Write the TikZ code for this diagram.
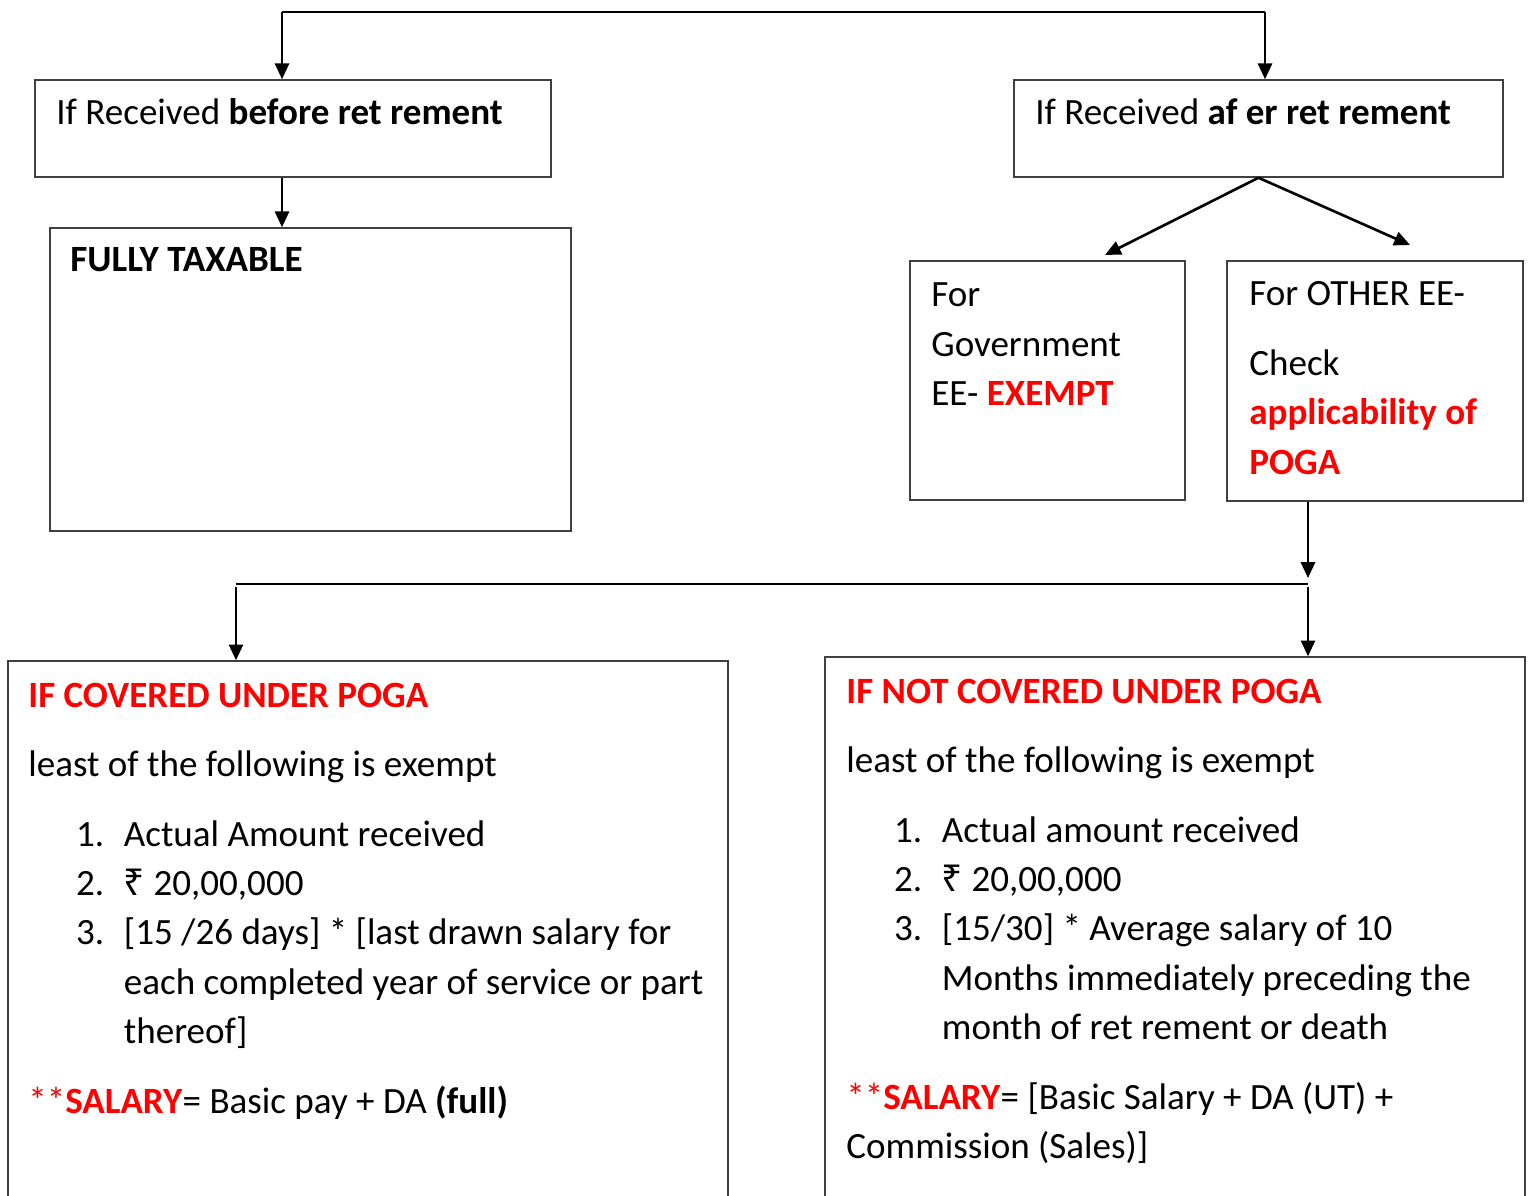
\documentclass[tikz,border=0pt]{standalone}
\usepackage{fontspec}
\setmainfont{Carlito}
\newfontfamily\rupeefont{Noto Sans}
\usetikzlibrary{arrows.meta}

\definecolor{pogared}{rgb}{1,0,0}
\definecolor{boxline}{rgb}{0.25,0.25,0.25}

\newcommand{\lnum}[1]{\hspace*{27.2pt}\makebox[27.2pt][l]{#1}}
\newcommand{\lcont}{\hspace*{54.4pt}}
\newcommand{\rs}{{\rupeefont ₹}}

\begin{document}
\begin{tikzpicture}[x=0.02cm, y=-0.02cm,
    box/.style={draw=boxline, line width=0.85pt, inner sep=0pt},
    txt/.style={anchor=base west, inner sep=0pt, text width=14cm, align=flush left,
      font=\fontsize{21.1}{28.06}\selectfont},
    link/.style={line width=1.5pt},
    arr/.style={line width=1.5pt, -{Triangle[length=9pt,width=8pt]}}]
            \useasboundingbox (0,0) rectangle (1529,1196);
            \clip (0,0) rectangle (1529,1196);

            \node[box, minimum width=10.32cm, minimum height=1.94cm] (before) at (293,128.5) {};
            \node[box, minimum width=10.42cm, minimum height=6.06cm] (taxable) at (310.5,379.5) {};
            \node[box, minimum width=9.78cm, minimum height=1.94cm] (after) at (1258.5,128.5) {};
            \node[box, minimum width=5.5cm, minimum height=4.78cm] (govt) at (1047.5,380.5) {};
            \node[box, minimum width=5.92cm, minimum height=4.8cm] (other) at (1375,381) {};
            \node[box, minimum width=14.4cm, minimum height=11.98cm] (covered) at (368,960.5) {};
            \node[box, minimum width=14cm, minimum height=12.06cm] (notcovered) at (1175,958.5) {};

            \node[txt] (beforetxt) at (56,125) {If Received \textbf{before ret rement}};
            \node[txt] (taxabletxt) at (70,272) {\textbf{FULLY TAXABLE}};
            \node[txt] (aftertxt) at (1035,125) {If Received \textbf{af er ret rement}};
            \node[txt] (govttxt) at (931,307) {For\\Government\\EE- \textcolor{pogared}{\textbf{EXEMPT}}};
            \node[txt] (othertxt) at (1249,306) {For OTHER EE-\\[11.6pt]
              Check\\
              \textcolor{pogared}{\textbf{applicability of}}\\
              \textcolor{pogared}{\textbf{POGA}}};
            \node[txt] (coveredtxt) at (28,707) {\textcolor{pogared}{\textbf{IF COVERED UNDER POGA}}\\[11.6pt]
              least of the following is exempt\\[11.6pt]
              \lnum{1.}Actual Amount received\\
              \lnum{2.}\rs\ 20,00,000\\
              \lnum{3.}[15 /26 days] * [last drawn salary for\\
              \lcont each completed year of service or part\\
              \lcont thereof]\\[11.6pt]
              \textcolor{pogared}{**\textbf{SALARY}}= Basic pay + DA \textbf{(full)}};
            \node[txt] (notcoveredtxt) at (846,703) {\textcolor{pogared}{\textbf{IF NOT COVERED UNDER POGA}}\\[11.6pt]
              least of the following is exempt\\[11.6pt]
              \lnum{1.}Actual amount received\\
              \lnum{2.}\rs\ 20,00,000\\
              \lnum{3.}[15/30] * Average salary of 10\\
              \lcont Months immediately preceding the\\
              \lcont month of ret rement or death\\[11.6pt]
              \textcolor{pogared}{**\textbf{SALARY}}= [Basic Salary + DA (UT) +\\
              Commission (Sales)]};

            \coordinate (topL) at (282,12);
            \coordinate (topR) at (1265,12);
            \coordinate (govttip) at (1105,255);
            \coordinate (othertip) at (1410,245);
            \coordinate (joinL) at (236,584);
            \coordinate (joinR) at (1308,584);

            \draw[link] (topL) -- (topR);
            \draw[arr] (topL) -- (topL |- before.north);
            \draw[arr] (topR) -- (topR |- after.north);
            \draw[arr] (before.south -| topL) -- (taxable.north -| topL);
            \draw[arr] (after.south) -- (govttip);
            \draw[arr] (after.south) -- (othertip);
            \draw[arr] (other.south -| joinR) -- ([yshift=3.4pt]joinR);
            \draw[link] (joinL) -- (joinR);
            \draw[arr] ([yshift=-1.7pt]joinL) -- (covered.north -| joinL);
            \draw[arr] ([yshift=-1.7pt]joinR) -- (notcovered.north -| joinR);
        \end{tikzpicture}
\end{document}
